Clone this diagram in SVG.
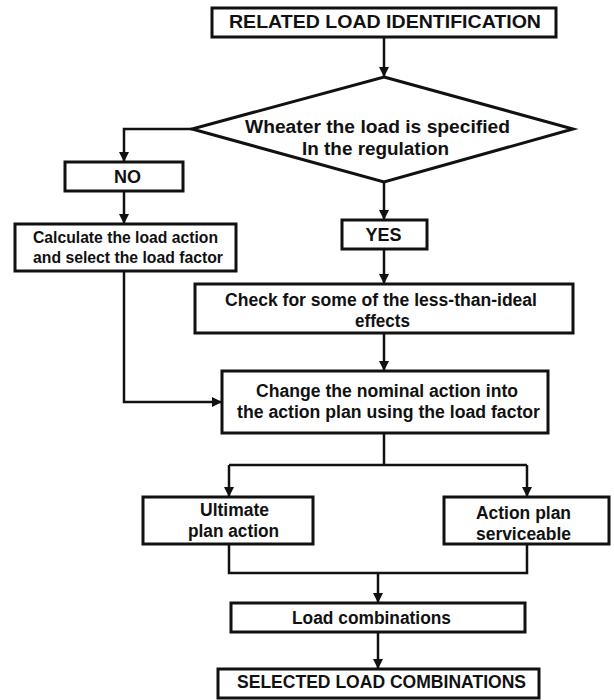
<svg xmlns="http://www.w3.org/2000/svg" width="614" height="700" viewBox="0 0 614 700">
  <style>
    .box { fill: #ffffff; stroke: #111111; stroke-width: 3; }
    .conn { fill: none; stroke: #111111; stroke-width: 2.5; }
    .t { font-family: "Liberation Sans", Arial, sans-serif; font-weight: bold; fill: #111111; text-anchor: middle; }
    .t18 { font-size: 18px; }
    .t16 { font-size: 16px; }
  </style>
  <defs>
    <marker id="arr" markerUnits="userSpaceOnUse" markerWidth="10" markerHeight="10" refX="10" refY="5" orient="auto">
      <path d="M0,0 L10,5 L0,10 z" fill="#111111"/>
    </marker>
  </defs>
  <rect width="614" height="700" fill="#ffffff"/>

  <g id="connectors">
    <path class="conn" d="M384,37 V77" marker-end="url(#arr)"/>
    <path class="conn" d="M192,129 H124 V162" marker-end="url(#arr)"/>
    <path class="conn" d="M124,191 V224" marker-end="url(#arr)"/>
    <path class="conn" d="M384,182 V220" marker-end="url(#arr)"/>
    <path class="conn" d="M384,249 V284" marker-end="url(#arr)"/>
    <path class="conn" d="M384,333 V371" marker-end="url(#arr)"/>
    <path class="conn" d="M124,271 V402 H222" marker-end="url(#arr)"/>
    <path class="conn" d="M384,433 V465"/>
    <path class="conn" d="M229,465 H527"/>
    <path class="conn" d="M229,465 V497" marker-end="url(#arr)"/>
    <path class="conn" d="M527,465 V497" marker-end="url(#arr)"/>
    <path class="conn" d="M229,544 V573 H527 V544"/>
    <path class="conn" d="M378,573 V603" marker-end="url(#arr)"/>
    <path class="conn" d="M378,632 V669" marker-end="url(#arr)"/>
  </g>

  <g id="related-load">
    <rect class="box" x="212" y="8" width="344" height="29"/>
    <text class="t t18" x="385" y="28" textLength="312" lengthAdjust="spacingAndGlyphs">RELATED LOAD IDENTIFICATION</text>
  </g>

  <g id="decision">
    <polygon class="box" points="384,77 573,129 384,182 192,129"/>
    <text class="t t18" x="377.5" y="133" textLength="265" lengthAdjust="spacingAndGlyphs">Wheater the load is specified</text>
    <text class="t t18" x="375.5" y="155" textLength="147" lengthAdjust="spacingAndGlyphs">In the regulation</text>
  </g>

  <g id="no">
    <rect class="box" x="65" y="162" width="118" height="29"/>
    <text class="t t18" x="127.5" y="183">NO</text>
  </g>

  <g id="calculate">
    <rect class="box" x="15" y="224" width="221" height="47"/>
    <text class="t t16" x="125.5" y="243" textLength="185" lengthAdjust="spacingAndGlyphs">Calculate the load action</text>
    <text class="t t16" x="128" y="263" textLength="190" lengthAdjust="spacingAndGlyphs">and select the load factor</text>
  </g>

  <g id="yes">
    <rect class="box" x="342" y="220" width="85" height="29"/>
    <text class="t t18" x="383.5" y="241">YES</text>
  </g>

  <g id="check">
    <rect class="box" x="195" y="284" width="378" height="49"/>
    <text class="t t18" x="381" y="306" textLength="312" lengthAdjust="spacingAndGlyphs">Check for some of the less-than-ideal</text>
    <text class="t t18" x="382.5" y="327" textLength="55" lengthAdjust="spacingAndGlyphs">effects</text>
  </g>

  <g id="change">
    <rect class="box" x="222" y="371" width="326" height="62"/>
    <text class="t t18" x="387" y="397" textLength="262" lengthAdjust="spacingAndGlyphs">Change the nominal action into</text>
    <text class="t t18" x="388.5" y="418" textLength="303" lengthAdjust="spacingAndGlyphs">the action plan using the load factor</text>
  </g>

  <g id="ultimate">
    <rect class="box" x="143" y="497" width="170" height="47"/>
    <text class="t t18" x="234.5" y="516" textLength="69" lengthAdjust="spacingAndGlyphs">Ultimate</text>
    <text class="t t18" x="233.5" y="537" textLength="91" lengthAdjust="spacingAndGlyphs">plan action</text>
  </g>

  <g id="serviceable">
    <rect class="box" x="444" y="497" width="165" height="47"/>
    <text class="t t18" x="523.5" y="519" textLength="95" lengthAdjust="spacingAndGlyphs">Action plan</text>
    <text class="t t18" x="523.5" y="540" textLength="95" lengthAdjust="spacingAndGlyphs">serviceable</text>
  </g>

  <g id="load-combinations">
    <rect class="box" x="231" y="603" width="294" height="29"/>
    <text class="t t18" x="371.5" y="624" textLength="159" lengthAdjust="spacingAndGlyphs">Load combinations</text>
  </g>

  <g id="selected">
    <rect class="box" x="218" y="669" width="321" height="29"/>
    <text class="t t18" x="381.5" y="688" textLength="289" lengthAdjust="spacingAndGlyphs">SELECTED LOAD COMBINATIONS</text>
  </g>
</svg>
